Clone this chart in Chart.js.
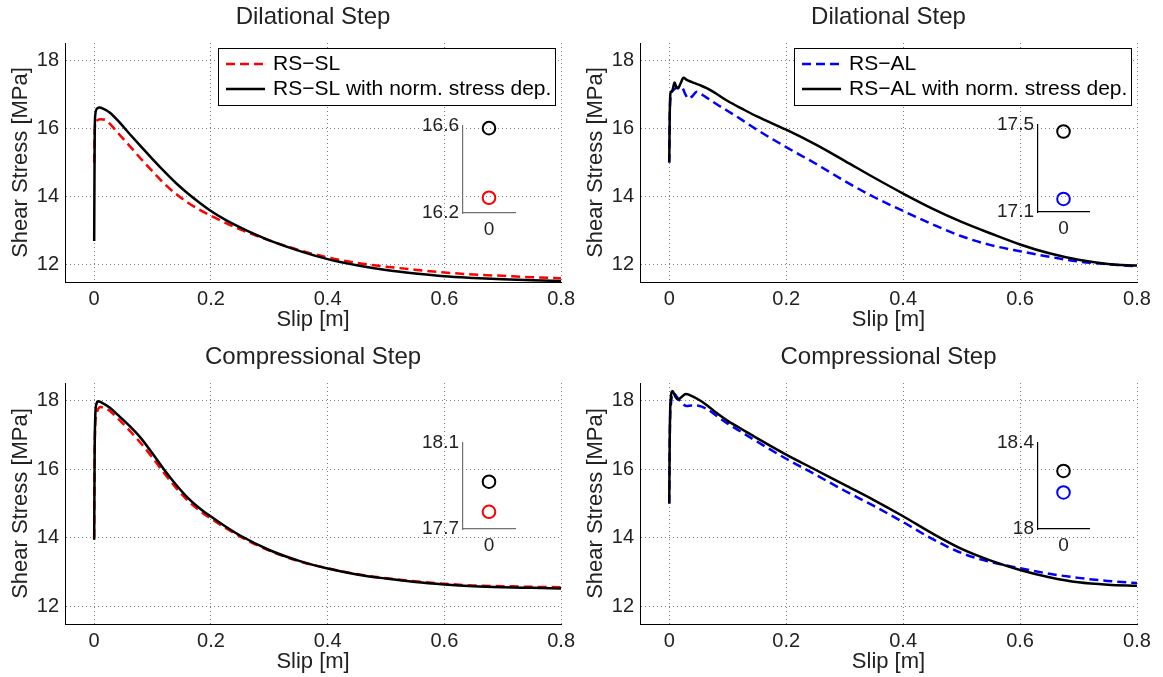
<!DOCTYPE html>
<html>
<head>
<meta charset="utf-8">
<script src="https://cdn.jsdelivr.net/npm/chart.js@4.4.0/dist/chart.umd.min.js"></script>
<style>
  body { margin: 0; background: #fff; }
  #fig { position: relative; width: 1163px; height: 677px; }
  canvas { position: absolute; }
</style>
</head>
<body>
<div id="fig">
  <canvas id="tl" width="580" height="340" style="left:0;top:0"></canvas>
  <canvas id="tr" width="588" height="340" style="left:575px;top:0"></canvas>
  <canvas id="bl" width="580" height="337" style="left:0;top:340px"></canvas>
  <canvas id="br" width="588" height="337" style="left:575px;top:340px"></canvas>
  <canvas id="tlIn" width="130" height="130" style="left:395px;top:110px"></canvas>
  <canvas id="trIn" width="130" height="130" style="left:970px;top:109px"></canvas>
  <canvas id="blIn" width="130" height="130" style="left:395px;top:427px"></canvas>
  <canvas id="brIn" width="130" height="130" style="left:970px;top:427px"></canvas>
</div>
<script>
// tick labels
const xTicks = [0, 0.2, 0.4, 0.6, 0.8];
const yTicks = [12, 14, 16, 18];

// legend labels
const slLabels = ['RS\u2212SL', 'RS\u2212SL with norm. stress dep.'];
const alLabels = ['RS\u2212AL', 'RS\u2212AL with norm. stress dep.'];

// Dilational step, RS-SL
const dilSlSlip = [0, 0.001, 0.004, 0.011, 0.02, 0.027, 0.04, 0.061, 0.08, 0.1, 0.12, 0.14, 0.16, 0.18, 0.2, 0.25, 0.3, 0.35, 0.4, 0.45, 0.5, 0.55, 0.6, 0.65, 0.7, 0.75, 0.8];
const dilSl     = [15.0, 16.0, 16.22, 16.27, 16.24, 16.13, 15.88, 15.48, 15.11, 14.74, 14.38, 14.08, 13.83, 13.62, 13.44, 13.04, 12.72, 12.44, 12.22, 12.06, 11.95, 11.86, 11.78, 11.72, 11.68, 11.64, 11.61];
const dilSlNSlip = [0, 0.0008, 0.002, 0.005, 0.009, 0.016, 0.027, 0.04, 0.06, 0.08, 0.1, 0.12, 0.14, 0.16, 0.18, 0.2, 0.225, 0.25, 0.275, 0.3, 0.35, 0.4, 0.45, 0.5, 0.55, 0.6, 0.65, 0.7, 0.75, 0.8];
const dilSlN     = [12.7, 15.6, 16.42, 16.58, 16.61, 16.57, 16.46, 16.24, 15.85, 15.47, 15.1, 14.74, 14.4, 14.1, 13.83, 13.58, 13.32, 13.1, 12.9, 12.72, 12.42, 12.17, 11.99, 11.85, 11.75, 11.67, 11.62, 11.58, 11.55, 11.53];

// Dilational step, RS-AL
const dilAlSlip = [0, 0.001, 0.003, 0.009, 0.016, 0.022, 0.027, 0.033, 0.04, 0.047, 0.055, 0.064, 0.08, 0.1, 0.125, 0.15, 0.2, 0.25, 0.3, 0.35, 0.4, 0.45, 0.5, 0.55, 0.6, 0.65, 0.7, 0.75, 0.8];
const dilAl     = [15.0, 16.5, 16.95, 17.15, 17.2, 17.19, 17.02, 16.87, 16.95, 17.07, 17.0, 16.9, 16.72, 16.51, 16.24, 15.96, 15.45, 14.97, 14.46, 13.99, 13.58, 13.19, 12.84, 12.58, 12.4, 12.24, 12.1, 12.02, 11.96];
const dilAlNSlip = [0, 0.0008, 0.002, 0.005, 0.0092, 0.012, 0.015, 0.019, 0.0245, 0.03, 0.038, 0.05, 0.064, 0.08, 0.1, 0.125, 0.15, 0.2, 0.25, 0.3, 0.35, 0.4, 0.45, 0.5, 0.55, 0.6, 0.65, 0.7, 0.75, 0.8];
const dilAlN     = [15.0, 16.3, 17.02, 17.1, 17.34, 17.22, 17.17, 17.3, 17.48, 17.42, 17.36, 17.28, 17.18, 17.02, 16.8, 16.57, 16.35, 15.96, 15.53, 15.05, 14.56, 14.09, 13.65, 13.26, 12.92, 12.6, 12.34, 12.15, 12.03, 11.98];

// Compressional step, RS-SL
const cmpSlSlip = [0, 0.001, 0.004, 0.011, 0.02, 0.027, 0.04, 0.06, 0.08, 0.1, 0.12, 0.14, 0.16, 0.18, 0.2, 0.225, 0.25, 0.3, 0.35, 0.4, 0.45, 0.5, 0.55, 0.6, 0.65, 0.7, 0.75, 0.8];
const cmpSl     = [14.0, 16.8, 17.6, 17.8, 17.76, 17.69, 17.48, 17.13, 16.75, 16.33, 15.88, 15.46, 15.09, 14.8, 14.56, 14.29, 14.04, 13.63, 13.33, 13.12, 12.95, 12.83, 12.74, 12.67, 12.62, 12.6, 12.58, 12.57];
const cmpSlNSlip = [0, 0.0008, 0.002, 0.004, 0.007, 0.012, 0.027, 0.04, 0.06, 0.08, 0.1, 0.12, 0.14, 0.16, 0.18, 0.2, 0.225, 0.25, 0.3, 0.35, 0.4, 0.45, 0.5, 0.55, 0.6, 0.65, 0.7, 0.75, 0.8];
const cmpSlN     = [13.95, 16.5, 17.6, 17.9, 17.97, 17.94, 17.78, 17.58, 17.26, 16.9, 16.45, 15.98, 15.55, 15.17, 14.87, 14.62, 14.33, 14.07, 13.65, 13.34, 13.11, 12.94, 12.82, 12.72, 12.65, 12.6, 12.57, 12.55, 12.53];

// Compressional step, RS-AL
const cmpAlSlip = [0, 0.001, 0.003, 0.0075, 0.013, 0.02, 0.03, 0.038, 0.05, 0.065, 0.08, 0.1, 0.125, 0.15, 0.2, 0.25, 0.3, 0.35, 0.4, 0.45, 0.5, 0.55, 0.6, 0.65, 0.7, 0.75, 0.8];
const cmpAl     = [15.0, 17.0, 17.9, 18.2, 18.1, 17.95, 17.83, 17.85, 17.84, 17.74, 17.56, 17.32, 17.06, 16.8, 16.3, 15.84, 15.37, 14.93, 14.46, 13.97, 13.56, 13.3, 13.12, 12.96, 12.84, 12.75, 12.69];
const cmpAlNSlip = [0, 0.0008, 0.002, 0.0057, 0.01, 0.015, 0.02, 0.0285, 0.035, 0.05, 0.065, 0.08, 0.1, 0.125, 0.15, 0.2, 0.25, 0.3, 0.35, 0.4, 0.45, 0.5, 0.55, 0.6, 0.65, 0.7, 0.75, 0.8];
const cmpAlN     = [15.0, 16.8, 17.9, 18.27, 18.12, 18.02, 18.08, 18.18, 18.15, 18.02, 17.85, 17.64, 17.4, 17.15, 16.9, 16.42, 15.98, 15.54, 15.1, 14.63, 14.13, 13.68, 13.34, 13.07, 12.86, 12.71, 12.64, 12.61];

// inset peak values [without, with norm. stress dep.] and inset axis limits
const dilSlPeak = [16.27, 16.59];
const dilAlPeak = [17.16, 17.47];
const cmpSlPeak = [17.78, 17.92];
const cmpAlPeak = [18.17, 18.27];
const dilSlInTicks = [16.2, 16.6];
const dilAlInTicks = [17.1, 17.5];
const cmpSlInTicks = [17.7, 18.1];
const cmpAlInTicks = [18, 18.4];
const insetXTicks = [0];

Chart.defaults.font.family = '"Liberation Sans", Arial, Helvetica, sans-serif';
Chart.defaults.color = '#222';

// legend drawn as a framed box inside the axes, like MATLAB
const boxLegend = {
  id: 'boxLegend',
  afterDatasetsDraw(chart, args, o) {
    const ctx = chart.ctx, ca = chart.chartArea;
    const sets = chart.data.datasets;
    ctx.save();
    ctx.font = o.fontSize + 'px ' + Chart.defaults.font.family;
    const tw = Math.max(...sets.map(d => ctx.measureText(d.label).width));
    const w = Math.round(o.padL + o.sample + o.gap + tw + o.padR);
    const h = o.rowH * sets.length + o.padV * 2;
    const x = Math.round(ca.right - o.right - w), y = Math.round(ca.top + o.top);
    ctx.fillStyle = '#fff';
    ctx.fillRect(x, y, w, h);
    ctx.strokeStyle = '#000';
    ctx.lineWidth = 1;
    ctx.strokeRect(x + 0.5, y + 0.5, w, h);
    sets.forEach((d, i) => {
      const cy = y + o.padV + o.rowH * (i + 0.5);
      ctx.strokeStyle = d.borderColor;
      ctx.lineWidth = d.borderWidth;
      ctx.setLineDash(d.borderDash || []);
      ctx.beginPath();
      ctx.moveTo(x + o.padL, cy);
      ctx.lineTo(x + o.padL + o.sample, cy);
      ctx.stroke();
      ctx.setLineDash([]);
      ctx.fillStyle = '#000';
      ctx.textBaseline = 'middle';
      ctx.fillText(d.label, x + o.padL + o.sample + o.gap, cy);
    });
    ctx.restore();
  }
};

function panel(id, title, labels, color, a, b, g) {
  const mk = (label, slip, tau, col, dash, order) => ({
    label: label,
    data: slip.map((x, i) => ({ x: x, y: tau[i] })),
    borderColor: col,
    borderWidth: 2.5,
    borderDash: dash,
    pointRadius: 0,
    cubicInterpolationMode: 'monotone',
    order: order
  });
  new Chart(document.getElementById(id), {
    type: 'line',
    data: {
      datasets: [
        mk(labels[0], a[0], a[1], color, [9, 5], 1),
        mk(labels[1], b[0], b[1], '#000', [], 0)
      ]
    },
    options: {
      responsive: false,
      animation: false,
      layout: { padding: { left: 0, right: g.right, top: 0, bottom: 0 } },
      plugins: {
        legend: { display: false },
        tooltip: { enabled: false },
        title: {
          display: true, text: title, fullSize: false, color: '#222',
          font: { size: 24, weight: 'normal' },
          padding: { top: 3, bottom: 11.2 }
        },
        boxLegend: g.legend ? { fontSize: 21, padL: 8, sample: 39, gap: 8, padR: 4, padV: 3.5, rowH: 25, right: 6, top: 5 } : false
      },
      scales: {
        x: {
          type: 'linear', min: -0.05, max: 0.8,
          afterBuildTicks: s => { s.ticks = xTicks.map(v => ({ value: v })); },
          afterFit: s => { s.height = g.xh; },
          grid: { color: 'rgba(0,0,0,0.5)', lineWidth: 1, drawTicks: false },
          border: { display: true, color: '#000', width: 1, dash: [1, 3] },
          ticks: { padding: 5, maxRotation: 0, autoSkip: false, font: { size: 20 }, callback: v => String(v) },
          title: { display: true, text: 'Slip [m]', font: { size: 22 }, padding: { top: 0, bottom: g.xtp } }
        },
        y: {
          type: 'linear', min: 11.5, max: 18.5,
          afterBuildTicks: s => { s.ticks = yTicks.map(v => ({ value: v })); },
          afterFit: s => { s.width = 65; },
          grid: { color: 'rgba(0,0,0,0.5)', lineWidth: 1, drawTicks: false },
          border: { display: true, color: '#000', width: 1, dash: [1, 3] },
          ticks: { padding: 6, font: { size: 20 }, callback: v => String(v) },
          title: { display: true, text: 'Shear Stress [MPa]', font: { size: 22 }, padding: { top: 7.6, bottom: 0 } }
        }
      }
    },
    plugins: [boxLegend]
  });
}

function inset(id, peaks, ticks, color, axisCol, g) {
  const pt = (v, col) => ({
    data: [{ x: 0, y: v }],
    borderColor: col, backgroundColor: 'rgba(0,0,0,0)',
    pointRadius: 6.3, pointBorderWidth: 2, pointStyle: 'circle', clip: false
  });
  new Chart(document.getElementById(id), {
    type: 'scatter',
    data: { datasets: [pt(peaks[0], color), pt(peaks[1], '#000')] },
    options: {
      responsive: false,
      animation: false,
      layout: { padding: { left: 0, right: g.right, top: 16, bottom: 0 } },
      plugins: { legend: { display: false }, tooltip: { enabled: false } },
      scales: {
        x: {
          type: 'linear', min: -1, max: 1,
          afterBuildTicks: s => { s.ticks = insetXTicks.map(v => ({ value: v })); },
          afterFit: s => { s.height = g.xh; },
          grid: { display: false, drawTicks: false },
          border: { display: true, color: axisCol, width: 1.2 },
          ticks: { padding: 5, font: { size: 19 }, callback: v => String(v) }
        },
        y: {
          type: 'linear', min: ticks[0], max: ticks[1],
          afterBuildTicks: s => { s.ticks = ticks.map(v => ({ value: v })); },
          afterFit: s => { s.width = 68; },
          grid: { display: false, drawTicks: false },
          border: { display: true, color: axisCol, width: 1.2 },
          ticks: { padding: 4, font: { size: 19 }, callback: v => String(v) }
        }
      }
    }
  });
}

panel('tl', 'Dilational Step', slLabels, '#ff0000', [dilSlSlip, dilSl], [dilSlNSlip, dilSlN], { right: 17, xh: 58, xtp: 6.8, legend: true });
panel('tr', 'Dilational Step', alLabels, '#0000ff', [dilAlSlip, dilAl], [dilAlNSlip, dilAlN], { right: 26, xh: 58, xtp: 6.8, legend: true });
panel('bl', 'Compressional Step', slLabels, '#ff0000', [cmpSlSlip, cmpSl], [cmpSlNSlip, cmpSlN], { right: 17, xh: 53, xtp: 2.2, legend: false });
panel('br', 'Compressional Step', alLabels, '#0000ff', [cmpAlSlip, cmpAl], [cmpAlNSlip, cmpAlN], { right: 26, xh: 53, xtp: 2.2, legend: false });

inset('tlIn', dilSlPeak, dilSlInTicks, '#ff0000', '#707070', { right: 10, xh: 27 });
inset('trIn', dilAlPeak, dilAlInTicks, '#0000ff', '#000', { right: 11, xh: 27 });
inset('blIn', cmpSlPeak, cmpSlInTicks, '#ff0000', '#707070', { right: 10, xh: 28 });
inset('brIn', cmpAlPeak, cmpAlInTicks, '#0000ff', '#000', { right: 11, xh: 28 });
</script>
</body>
</html>
